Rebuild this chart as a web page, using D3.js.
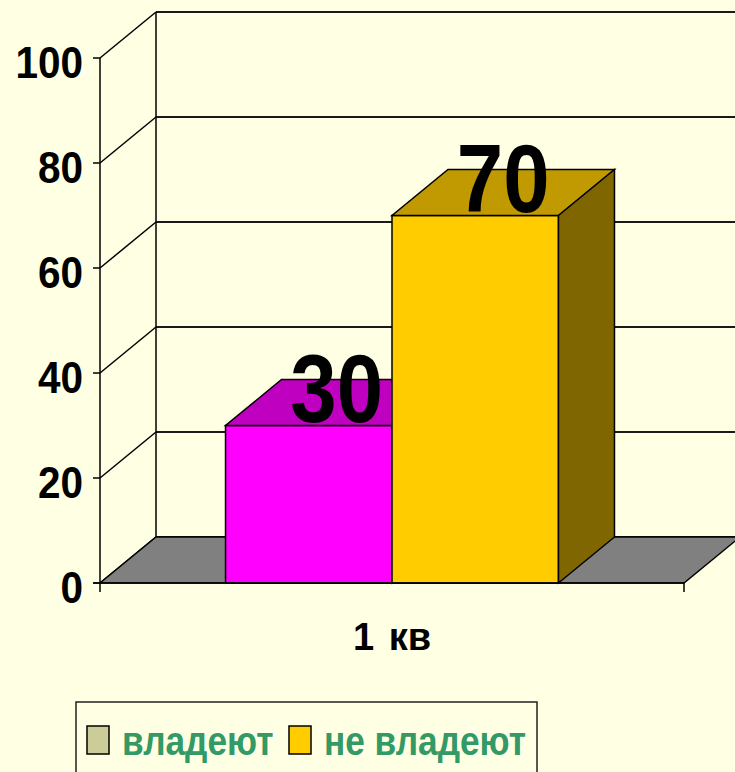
<!DOCTYPE html>
<html>
<head>
<meta charset="utf-8">
<script src="https://cdn.jsdelivr.net/npm/d3@7"></script>
<style>
  html, body { margin: 0; padding: 0; background: #FFFFE3; overflow: hidden; }
  text { font-family: "Liberation Sans", Arial, sans-serif; font-weight: bold; }
</style>
</head>
<body>
<div id="chart"></div>
<script>
// Data
var categories = ["1 кв"];
var seriesNames = ["владеют", "не владеют"];
var seriesValues = [30, 70];
var tickValues = [0, 20, 40, 60, 80, 100];

// Colours per series: front, top, side, legend swatch
var frontColors = ["#FF00FF", "#FFCC00"];
var topColors = ["#C000C0", "#C09A00"];
var sideColors = ["#800080", "#806600"];
var legendColors = ["#CCCC99", "#FFCC00"];

var width = 735, height = 772;
var depth = {dx: 56, dy: -46};

var svg = d3.select("#chart")
  .append("svg")
  .attr("width", width)
  .attr("height", height);

svg.append("rect")
  .attr("width", width).attr("height", height)
  .attr("fill", "#FFFFE3");

// Scales
var y = d3.scaleLinear().domain([0, 100]).range([583, 58]);

var x0 = d3.scaleBand()
  .domain(categories)
  .range([100, 684])
  .padding(0);

var x1 = d3.scaleBand()
  .domain(seriesNames)
  .range([0, x0.bandwidth()])
  .paddingInner(0)
  .paddingOuter(0.754);

// Back wall gridlines
svg.selectAll(".grid")
  .data(tickValues)
  .enter()
  .append("line")
  .attr("x1", 100 + depth.dx)
  .attr("x2", width)
  .attr("y1", function(d) { return y(d) + depth.dy; })
  .attr("y2", function(d) { return y(d) + depth.dy; })
  .attr("stroke", "#1a1a1a")
  .attr("stroke-width", 2);

// Side wall diagonals
svg.selectAll(".diag")
  .data(tickValues)
  .enter()
  .append("line")
  .attr("x1", 100)
  .attr("y1", function(d) { return y(d); })
  .attr("x2", 100 + depth.dx)
  .attr("y2", function(d) { return y(d) + depth.dy; })
  .attr("stroke", "#000")
  .attr("stroke-width", 1.5);

// Back wall left edge
svg.append("line")
  .attr("x1", 100 + depth.dx).attr("x2", 100 + depth.dx)
  .attr("y1", y(100) + depth.dy).attr("y2", y(0) + depth.dy)
  .attr("stroke", "#000").attr("stroke-width", 1.5);

// Floor
var fx0 = x0.range()[0], fx1 = x0.range()[1], fy = y(0);
svg.append("polygon")
  .attr("points", [[fx0, fy], [fx1, fy], [fx1 + depth.dx, fy + depth.dy], [fx0 + depth.dx, fy + depth.dy]].join(" "))
  .attr("fill", "#808080")
  .attr("stroke", "#000")
  .attr("stroke-width", 1.5);

// Bars
var bars = svg.selectAll(".bar")
  .data(seriesValues.map(function(v, i) { return {name: seriesNames[i], value: v, i: i, cat: categories[0]}; }))
  .enter()
  .append("g");

bars.each(function(d) {
  var g = d3.select(this);
  var xl = x0(d.cat) + x1(d.name), xr = xl + x1.bandwidth();
  var yt = y(d.value), yb = y(0);
  g.append("polygon")
    .attr("points", [[xl, yt], [xr, yt], [xr, yb], [xl, yb]].join(" "))
    .attr("fill", frontColors[d.i]).attr("stroke", "#000").attr("stroke-width", 1.5);
  g.append("polygon")
    .attr("points", [[xl, yt], [xr, yt], [xr + depth.dx, yt + depth.dy], [xl + depth.dx, yt + depth.dy]].join(" "))
    .attr("fill", topColors[d.i]).attr("stroke", "#000").attr("stroke-width", 1.5);
  g.append("polygon")
    .attr("points", [[xr, yt], [xr + depth.dx, yt + depth.dy], [xr + depth.dx, yb + depth.dy], [xr, yb]].join(" "))
    .attr("fill", sideColors[d.i]).attr("stroke", "#000").attr("stroke-width", 1.5);
});

// Value labels
bars.append("text")
  .attr("transform", function(d) {
    var cx = x0(d.cat) + x1(d.name) + x1.bandwidth() / 2 + depth.dx / 2;
    return "translate(" + cx + "," + (y(d.value) - 4) + ") scale(0.86,1)";
  })
  .attr("text-anchor", "middle")
  .style("font-size", "97px")
  .attr("fill", "#000")
  .text(function(d) { return d.value; });

// Y axis line and ticks
svg.append("line")
  .attr("x1", 100).attr("x2", 100)
  .attr("y1", y(100)).attr("y2", y(0) + 9)
  .attr("stroke", "#000").attr("stroke-width", 1.5);

svg.selectAll(".ytick")
  .data(tickValues)
  .enter()
  .append("line")
  .attr("x1", 93).attr("x2", 100)
  .attr("y1", function(d) { return y(d); })
  .attr("y2", function(d) { return y(d); })
  .attr("stroke", "#000").attr("stroke-width", 1.5);

svg.selectAll(".ylabel")
  .data(tickValues)
  .enter()
  .append("text")
  .attr("transform", function(d) { return "translate(83," + (y(d) + 20) + ") scale(0.9,1)"; })
  .attr("text-anchor", "end")
  .style("font-size", "45px")
  .attr("fill", "#000")
  .text(function(d) { return d; });

// X axis line, ticks and category label
svg.append("line")
  .attr("x1", 93).attr("x2", fx1)
  .attr("y1", y(0)).attr("y2", y(0))
  .attr("stroke", "#000").attr("stroke-width", 1.5);

svg.append("line")
  .attr("x1", fx1).attr("x2", fx1)
  .attr("y1", y(0)).attr("y2", y(0) + 9)
  .attr("stroke", "#000").attr("stroke-width", 1.5);

svg.selectAll(".xlabel")
  .data(categories)
  .enter()
  .append("text")
  .attr("transform", function(d) { return "translate(" + (x0(d) + x0.bandwidth() / 2) + ",650)"; })
  .attr("text-anchor", "middle")
  .style("font-size", "38px")
  .style("word-spacing", "4px")
  .attr("fill", "#000")
  .text(function(d) { return d; });

// Legend
svg.append("rect")
  .attr("x", 76).attr("y", 702)
  .attr("width", 461).attr("height", 100)
  .attr("fill", "none")
  .attr("stroke", "#222").attr("stroke-width", 1.5);

var legendX = [87, 289];
var legend = svg.selectAll(".legend")
  .data(seriesNames)
  .enter()
  .append("g")
  .attr("transform", function(d, i) { return "translate(" + legendX[i] + ",0)"; });

legend.append("rect")
  .attr("x", 0).attr("y", 726)
  .attr("width", 22).attr("height", 28)
  .attr("fill", function(d, i) { return legendColors[i]; })
  .attr("stroke", "#000").attr("stroke-width", 1.5);

legend.append("text")
  .attr("transform", "translate(35,755) scale(0.88,1)")
  .style("font-size", "40px")
  .attr("fill", "#339966")
  .text(function(d) { return d; });
</script>
</body>
</html>
